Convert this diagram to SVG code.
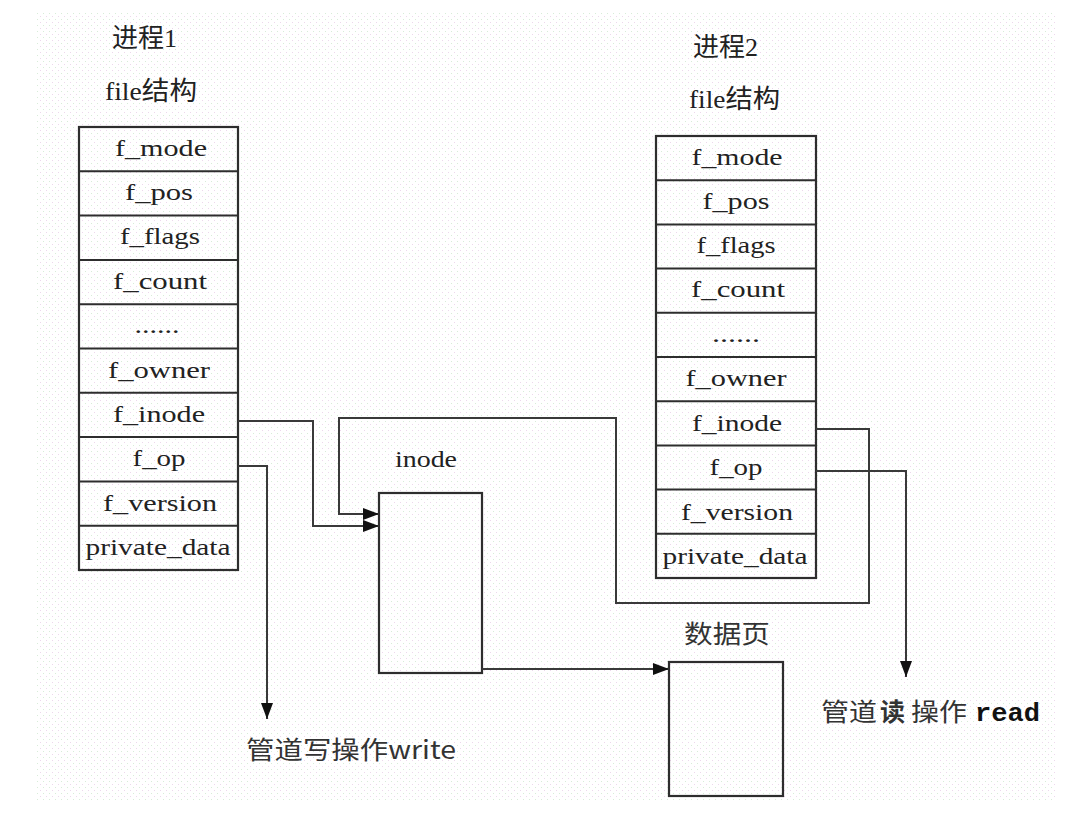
<svg xmlns="http://www.w3.org/2000/svg" width="1070" height="814" viewBox="0 0 1070 814">
<style>
.bg{fill:#ffffff}
.cell{fill:none;stroke:#2e2e2e;stroke-width:2}
.box{fill:none;stroke:#2e2e2e;stroke-width:2.2}
.conn{fill:none;stroke:#3a3a3a;stroke-width:2}
.f{font-family:"Liberation Serif","Noto Sans CJK SC",serif;font-size:24px;fill:#222;text-anchor:middle}
.h{font-family:"Liberation Serif","Noto Sans CJK SC",serif;font-size:26px;fill:#222}
.cj{font-family:"Noto Sans CJK SC",sans-serif;font-size:25px;fill:#333}
.rd{font-family:"Liberation Mono","Noto Sans CJK SC",monospace;font-size:25px;font-weight:bold;fill:#111}
</style>
<defs>
<pattern id="dots" width="6" height="6" patternUnits="userSpaceOnUse">
<rect x="1" y="1" width="1" height="1" fill="#d8ecd8"/>
<rect x="4" y="4" width="1" height="1" fill="#ecd8ec"/>
</pattern>
<marker id="ah" viewBox="0 0 16 12" refX="16" refY="6" markerWidth="16" markerHeight="12" markerUnits="userSpaceOnUse" orient="auto">
<path d="M0,0 L16,6 L0,12 Z" fill="#111"/>
</marker>
</defs>
<rect class="bg" x="0" y="0" width="1070" height="814"/>
<rect x="35" y="12" width="1020" height="788" fill="url(#dots)"/>

<g id="proc1-title">
<text class="h" x="112" y="47">进程1</text>
<text class="h" x="105" y="100" textLength="92" lengthAdjust="spacingAndGlyphs">file结构</text>
</g>
<g id="proc2-title">
<text class="h" x="693" y="56">进程2</text>
<text class="h" x="689" y="108" textLength="91" lengthAdjust="spacingAndGlyphs">file结构</text>
</g>

<g id="file1">
<rect class="box" x="79" y="127" width="159" height="443"/>
<path class="cell" d="M79,171.3H238M79,215.6H238M79,259.9H238M79,304.2H238M79,348.5H238M79,392.8H238M79,437.1H238M79,481.4H238M79,525.7H238"/>
<text class="f" x="161" y="156" textLength="92" lengthAdjust="spacingAndGlyphs">f_mode</text>
<text class="f" x="159" y="200" textLength="68" lengthAdjust="spacingAndGlyphs">f_pos</text>
<text class="f" x="160" y="244" textLength="80" lengthAdjust="spacingAndGlyphs">f_flags</text>
<text class="f" x="160" y="289" textLength="94" lengthAdjust="spacingAndGlyphs">f_count</text>
<text class="f" x="157" y="333" textLength="45" lengthAdjust="spacingAndGlyphs">......</text>
<text class="f" x="159" y="378" textLength="102" lengthAdjust="spacingAndGlyphs">f_owner</text>
<text class="f" x="159" y="422" textLength="92" lengthAdjust="spacingAndGlyphs">f_inode</text>
<text class="f" x="159" y="466" textLength="53" lengthAdjust="spacingAndGlyphs">f_op</text>
<text class="f" x="160" y="511" textLength="114" lengthAdjust="spacingAndGlyphs">f_version</text>
<text class="f" x="158" y="555" textLength="145" lengthAdjust="spacingAndGlyphs">private_data</text>
</g>

<g id="file2">
<rect class="box" x="656" y="136" width="160" height="442"/>
<path class="cell" d="M656,180.2H816M656,224.4H816M656,268.6H816M656,312.8H816M656,357H816M656,401.2H816M656,445.4H816M656,489.6H816M656,533.8H816"/>
<text class="f" x="737" y="165" textLength="91" lengthAdjust="spacingAndGlyphs">f_mode</text>
<text class="f" x="736" y="209" textLength="67" lengthAdjust="spacingAndGlyphs">f_pos</text>
<text class="f" x="736" y="253" textLength="79" lengthAdjust="spacingAndGlyphs">f_flags</text>
<text class="f" x="738" y="297" textLength="94" lengthAdjust="spacingAndGlyphs">f_count</text>
<text class="f" x="736" y="342" textLength="48" lengthAdjust="spacingAndGlyphs">......</text>
<text class="f" x="736" y="386" textLength="101" lengthAdjust="spacingAndGlyphs">f_owner</text>
<text class="f" x="737" y="431" textLength="90" lengthAdjust="spacingAndGlyphs">f_inode</text>
<text class="f" x="736" y="475" textLength="53" lengthAdjust="spacingAndGlyphs">f_op</text>
<text class="f" x="737" y="520" textLength="112" lengthAdjust="spacingAndGlyphs">f_version</text>
<text class="f" x="735" y="564" textLength="145" lengthAdjust="spacingAndGlyphs">private_data</text>
</g>

<g id="inode">
<text class="f" x="426" y="467" textLength="62" lengthAdjust="spacingAndGlyphs">inode</text>
<rect class="box" x="379" y="493" width="103" height="180"/>
</g>

<g id="datapage">
<text class="cj" x="684" y="643" font-size="27" textLength="86" lengthAdjust="spacingAndGlyphs">数据页</text>
<rect class="box" x="669" y="662" width="114" height="134"/>
</g>

<g id="write-label">
<text class="cj" x="246" y="759" textLength="210" lengthAdjust="spacingAndGlyphs">管道写操作write</text>
</g>
<g id="read-label">
<text x="821" y="721"><tspan class="cj" x="821" textLength="56" lengthAdjust="spacingAndGlyphs">管道</tspan><tspan class="cj" x="880" font-weight="bold" fill="#111">读</tspan><tspan class="cj" x="911" textLength="56" lengthAdjust="spacingAndGlyphs">操作</tspan><tspan class="rd" x="975" textLength="65" lengthAdjust="spacingAndGlyphs">read</tspan></text>
</g>

<g id="connectors">
<path class="conn" d="M238,421H313V526H379" marker-end="url(#ah)"/>
<path class="conn" d="M816,429H869V603H616V418H339V514H379" marker-end="url(#ah)"/>
<path class="conn" d="M238,466H267V719" marker-end="url(#ah)"/>
<path class="conn" d="M816,471H906V677" marker-end="url(#ah)"/>
<path class="conn" d="M482,669H669" marker-end="url(#ah)"/>
</g>
</svg>
